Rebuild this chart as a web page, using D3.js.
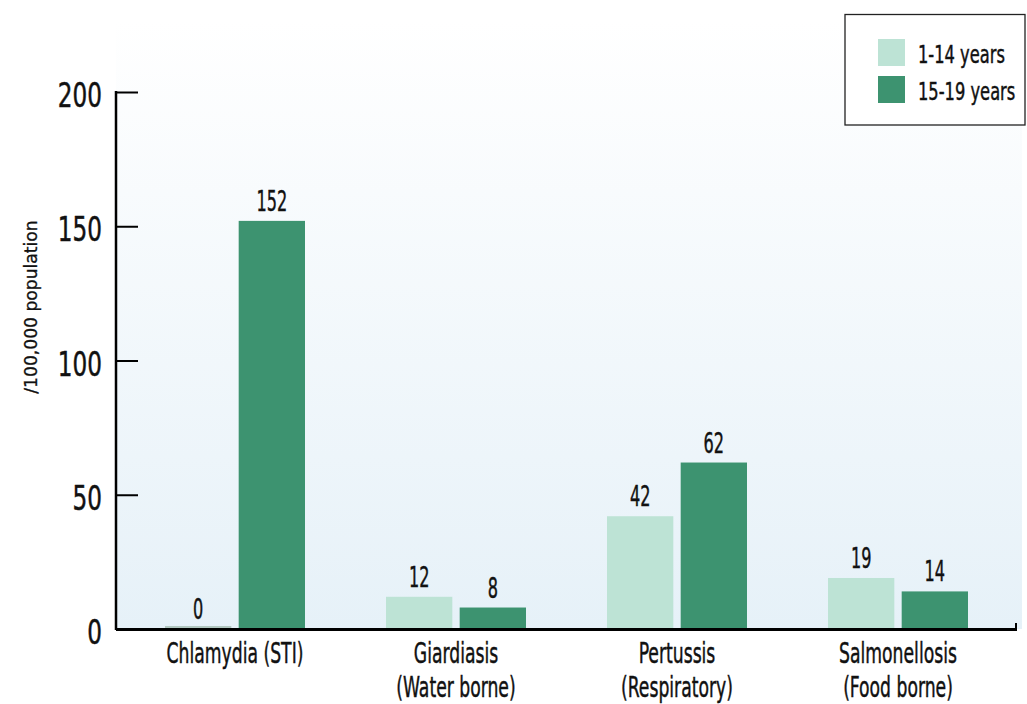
<!DOCTYPE html>
<html><head><meta charset="utf-8">
<script src="https://cdn.jsdelivr.net/npm/d3@7"></script>
<style>
body{margin:0;background:#fff;}
text{font-family:"DejaVu Sans Condensed","DejaVu Sans",sans-serif;fill:#111;stroke:#111;stroke-width:0.45px;}
</style></head>
<body><svg id="c" width="1027" height="704"></svg>
<script>
const categories = ["Chlamydia (STI)", "Giardiasis|(Water borne)", "Pertussis|(Respiratory)", "Salmonellosis|(Food borne)"];
const seriesNames = ["1-14 years", "15-19 years"];
const values1to14 = [0, 12, 42, 19];
const values15to19 = [152, 8, 62, 14];
const yTicks = [0, 50, 100, 150, 200];
const colors = ["#bde3d5", "#3d9370"];

const svg = d3.select("#c");
const pLeft = 116, pRight = 1016, pTop = 92, pBottom = 629;

const defs = svg.append("defs");
const g = defs.append("linearGradient").attr("id","bg").attr("x1",0).attr("y1",0).attr("x2",0).attr("y2",1);
g.append("stop").attr("offset","0%").attr("stop-color","#ffffff");
g.append("stop").attr("offset","100%").attr("stop-color","#e6f1f8");
svg.append("rect").attr("x",pLeft).attr("y",20).attr("width",1022-pLeft).attr("height",pBottom-20).attr("fill","url(#bg)");

const y = d3.scaleLinear().domain([0,200]).range([pBottom, pTop]);
const x0 = d3.scaleBand().domain(categories).range([124.5, 1008.5]).padding(0);
const x1 = d3.scaleBand().domain(seriesNames).range([0,140]).paddingInner(0.1);

const data = categories.map((c,i)=>({cat:c, vals:[values1to14[i], values15to19[i]]}));

const grp = svg.append("g").selectAll("g").data(data).join("g")
  .attr("transform", d=>`translate(${x0(d.cat)+40.5},0)`);
grp.selectAll("rect").data(d=>d.vals.map((v,j)=>({v, s:seriesNames[j], j}))).join("rect")
  .attr("x", d=>x1(d.s)).attr("width", x1.bandwidth())
  .attr("y", d=>y(d.v)).attr("height", d=>Math.max(pBottom - y(d.v), 0))
  .attr("fill", d=>colors[d.j]);
grp.selectAll("line.z").data(d=>d.vals.map((v,j)=>({v, s:seriesNames[j], j})).filter(e=>e.v===0)).join("line")
  .attr("x1", d=>x1(d.s)).attr("x2", d=>x1(d.s)+x1.bandwidth())
  .attr("y1", pBottom-2).attr("y2", pBottom-2).attr("stroke","#9fb8ae").attr("stroke-width",1.5);
grp.selectAll("text.v").data(d=>d.vals.map((v,j)=>({v, s:seriesNames[j], j}))).join("text")
  .attr("class","v")
  .attr("transform", d=>`translate(${x1(d.s)+x1.bandwidth()/2},${y(d.v)-10}) scale(0.64,1)`)
  .attr("text-anchor","middle").attr("font-size",28).text(d=>d.v);

// y axis
const yAxis = d3.axisRight(y).tickValues(yTicks).tickSize(22).tickFormat("");
const ya = svg.append("g").attr("transform",`translate(${pLeft},0)`).call(yAxis);
ya.select(".domain").remove();
ya.selectAll(".tick line").attr("stroke","#000").attr("stroke-width",2);
svg.append("line").attr("x1",pLeft).attr("x2",pLeft).attr("y1",pTop-1).attr("y2",pBottom+1).attr("stroke","#000").attr("stroke-width",2.5);
svg.selectAll("text.yt").data(yTicks).join("text").attr("class","yt")
  .attr("transform", d=>`translate(102,${y(d)+15}) scale(0.78,1)`)
  .attr("text-anchor","end").attr("font-size",33).text(d=>d);

// x axis
svg.append("line").attr("x1",pLeft).attr("x2",pRight).attr("y1",pBottom+0.5).attr("y2",pBottom+0.5).attr("stroke","#000").attr("stroke-width",3);
svg.append("line").attr("x1",pRight).attr("x2",pRight).attr("y1",pBottom+2).attr("y2",pBottom-6).attr("stroke","#000").attr("stroke-width",2);

svg.selectAll("text.xl").data(categories).join("text").attr("class","xl")
  .attr("text-anchor","middle").attr("font-size",29)
  .attr("transform", d=>`translate(${x0(d)+x0.bandwidth()/2},663) scale(0.66,1)`)
  .each(function(d){
    const t = d3.select(this);
    d.split("|").forEach((line,i)=>t.append("tspan").attr("x",0).attr("y",i*34).text(line));
  });

svg.append("text").attr("transform","translate(37,307) rotate(-90) scale(1.06,1)").attr("text-anchor","middle")
  .attr("font-size",18).style("stroke-width","0.3px").text("/100,000 population");

// legend
svg.append("rect").attr("x",845).attr("y",14.5).attr("width",180).attr("height",110.5).attr("fill","#fff").attr("stroke","#222").attr("stroke-width",1.3);
const lg = svg.append("g").selectAll("g").data(seriesNames).join("g").attr("transform",(d,i)=>`translate(878,${39+i*37})`);
lg.append("rect").attr("width",27).attr("height",27).attr("fill",(d,i)=>colors[i]);
lg.append("text").attr("transform","translate(40,24) scale(0.71,1)").attr("font-size",25.5).text(d=>d);
</script></body></html>
